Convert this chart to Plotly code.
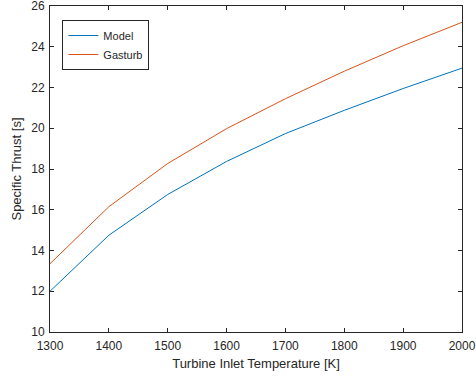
import plotly.graph_objects as go

temperature = [1300, 1400, 1500, 1600, 1700, 1800, 1900, 2000]
model = [12.0, 14.75, 16.75, 18.37, 19.74, 20.88, 21.95, 22.95]
gasturb = [13.35, 16.15, 18.27, 19.98, 21.45, 22.8, 24.05, 25.2]

x_ticks = [1300, 1400, 1500, 1600, 1700, 1800, 1900, 2000]
y_ticks = [10, 12, 14, 16, 18, 20, 22, 24, 26]

fig = go.Figure()
fig.add_trace(go.Scatter(x=temperature, y=model, mode="lines", name="Model",
                         line=dict(color="#0072BD", width=1)))
fig.add_trace(go.Scatter(x=temperature, y=gasturb, mode="lines", name="Gasturb",
                         line=dict(color="#D95319", width=1)))

axis_common = dict(
    showgrid=False, zeroline=False, showline=True, linecolor="#262626", linewidth=1,
    mirror="ticks", ticks="inside", ticklen=4, tickcolor="#262626", automargin=False,
    ticklabeloverflow="allow",
    tickfont=dict(family="Liberation Sans, Arial, sans-serif", size=12, color="#262626"),
)

fig.update_layout(
    width=476, height=376,
    margin=dict(l=50, r=14, t=6, b=44, autoexpand=False),
    paper_bgcolor="white", plot_bgcolor="white",
    font=dict(family="Liberation Sans, Arial, sans-serif", size=12, color="#262626"),
    xaxis=dict(range=[1300, 2000], tickvals=x_ticks, ticklabelstandoff=3,
               title=dict(text="Turbine Inlet Temperature [K]", font=dict(size=13), standoff=6),
               **axis_common),
    yaxis=dict(range=[10, 26], tickvals=y_ticks, ticklabelstandoff=2,
               title=dict(text="Specific Thrust [s]", font=dict(size=13), standoff=6),
               **axis_common),
    legend=dict(x=0.03, y=0.957, xanchor="left", yanchor="top",
                bordercolor="#262626", borderwidth=1, bgcolor="white",
                font=dict(size=11), tracegroupgap=0, itemwidth=30),
    showlegend=True,
)

fig.write_html("out.html")
